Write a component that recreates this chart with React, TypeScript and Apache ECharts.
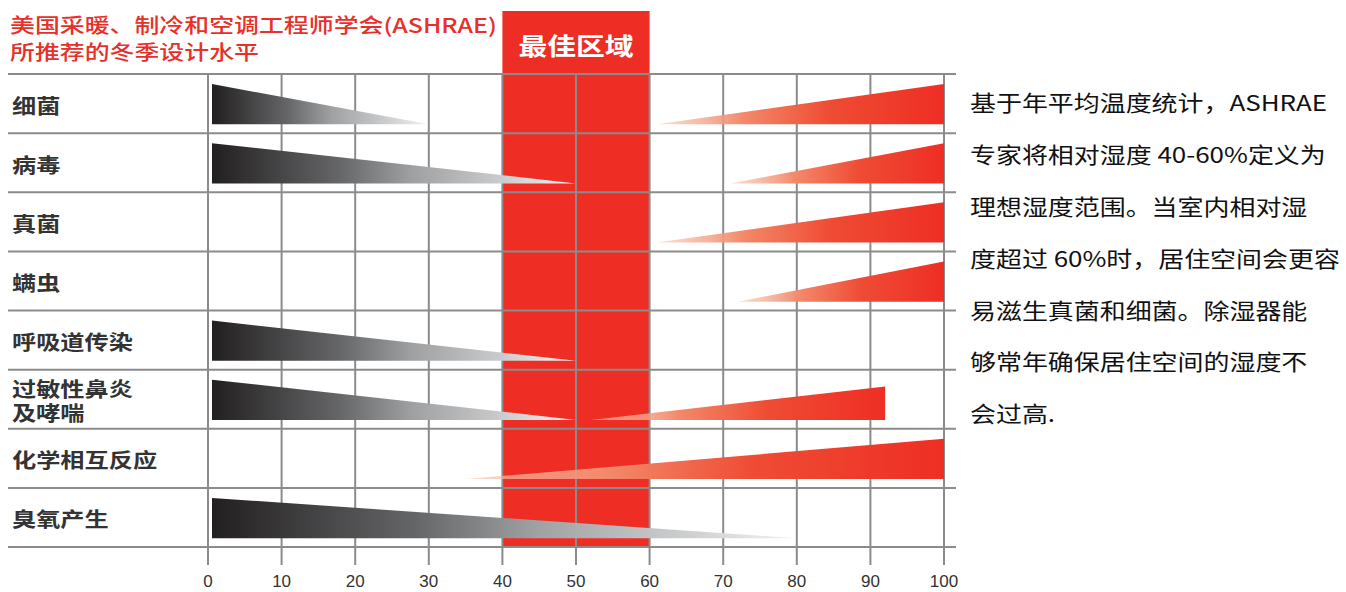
import React, { useEffect, useRef } from 'react';
import * as echarts from 'echarts';

// ---- data ----
const categories = ['细菌', '病毒', '真菌', '螨虫', '呼吸道传染', '过敏性鼻炎\n及哮喘', '化学相互反应', '臭氧产生'];
// relative humidity (%) where the low-humidity risk fades out (dark wedges, start at 0%)
const lowRiskEnd: (number | null)[] = [30, 50, null, null, 50, 50, null, 80];
// relative humidity (%) where the high-humidity risk starts (red wedges)
const highRiskStart: (number | null)[] = [61, 71, 61, 72, null, 52, 35, null];
// relative humidity (%) where the red wedge ends
const highRiskEnd: (number | null)[] = [100, 100, 100, 100, null, 92, 100, null];
const optimalRange = [40, 60];
const xTicks = [0, 10, 20, 30, 40, 50, 60, 70, 80, 90, 100];
const xMin = 0;
const xMax = 100;
const zoneLabel = '最佳区域';
const titleLines = ['美国采暖、制冷和空调工程师学会(ASHRAE)', '所推荐的冬季设计水平'];
const noteLines = [
  '基于年平均温度统计，ASHRAE',
  '专家将相对湿度 40-60%定义为',
  '理想湿度范围。当室内相对湿',
  '度超过 60%时，居住空间会更容',
  '易滋生真菌和细菌。除湿器能',
  '够常年确保居住空间的湿度不',
  '会过高.',
];

const RED = '#ee2e24';
const GRID = '#8b8b8b';
const CJK = '"Noto Sans CJK SC", "Noto Sans", sans-serif';

export default function App() {
  const ref = useRef<HTMLDivElement>(null);
  useEffect(() => {
    if (!ref.current) return;
    const chart = echarts.init(ref.current, undefined, { renderer: 'svg' });

    const lowData = lowRiskEnd
      .map((v, i) => (v == null ? null : [v, i]))
      .filter((d) => d != null);
    const highData = highRiskStart
      .map((v, i) => (v == null ? null : [v, i, highRiskEnd[i]]))
      .filter((d) => d != null);

    const option: any = {
      animation: false,
      grid: { left: 208, top: 74, width: 736, height: 473 },
      xAxis: {
        type: 'value',
        min: xMin,
        max: xMax,
        interval: 10,
        axisLine: { show: false },
        axisTick: { show: false },
        splitLine: { show: false },
        axisLabel: {
          fontSize: 17,
          color: '#333',
          margin: 26,
          fontFamily: '"Liberation Sans", Arial, sans-serif',
        },
      },
      yAxis: {
        type: 'category',
        data: categories,
        inverse: true,
        axisLine: { show: false },
        axisTick: { show: false },
        axisLabel: { show: false },
        splitLine: { show: false },
      },
      graphic: [
        {
          type: 'text',
          x: 10,
          y: 11,
          scaleX: 1.245,
          z: 10,
          style: {
            text: titleLines.join('\n'),
            fill: '#e8302a',
            font: `500 20px ${CJK}`,
            lineHeight: 27,
            verticalAlign: 'top',
          },
        },
        {
          type: 'text',
          x: 970,
          y: 76,
          scaleX: 1.18,
          z: 10,
          style: {
            text: noteLines.join('\n'),
            fill: '#111',
            font: `22px ${CJK}`,
            lineHeight: 51.8,
            verticalAlign: 'top',
          },
        },
      ],
      series: [
        {
          type: 'custom',
          name: 'zone',
          z: 1,
          clip: false,
          data: [[optimalRange[0], 0, optimalRange[1]]],
          renderItem: (params: any, api: any) => {
            const cs = params.coordSys;
            const x0 = api.coord([api.value(0), 0])[0];
            const x1 = api.coord([api.value(2), 0])[0];
            return {
              type: 'group',
              children: [
                {
                  type: 'rect',
                  shape: { x: x0, y: cs.y - 63, width: x1 - x0, height: cs.height + 63 },
                  style: { fill: RED },
                },
                {
                  type: 'text',
                  x: (x0 + x1) / 2,
                  y: cs.y - 29,
                  scaleX: 1.2,
                  style: {
                    text: zoneLabel,
                    fill: '#fff',
                    font: `bold 24px ${CJK}`,
                    align: 'center',
                    verticalAlign: 'middle',
                  },
                },
              ],
            };
          },
        },
        {
          type: 'custom',
          name: 'gridLines',
          z: 2,
          clip: false,
          data: [[0, 0]],
          renderItem: (params: any, api: any) => {
            const cs = params.coordSys;
            const band = cs.height / categories.length;
            const children: any[] = [];
            xTicks.forEach((t) => {
              const x = api.coord([t, 0])[0];
              children.push({
                type: 'line',
                shape: { x1: x, y1: cs.y, x2: x, y2: cs.y + cs.height + 18 },
                style: { stroke: GRID, lineWidth: 2 },
              });
            });
            for (let k = 0; k <= categories.length; k++) {
              const y = cs.y + k * band;
              children.push({
                type: 'line',
                shape: { x1: cs.x - 200, y1: y, x2: cs.x + cs.width + 12, y2: y },
                style: { stroke: GRID, lineWidth: 2 },
              });
            }
            return { type: 'group', children };
          },
        },
        {
          type: 'custom',
          name: 'lowRisk',
          z: 3,
          clip: false,
          data: lowData,
          renderItem: (params: any, api: any) => {
            const end = api.value(0);
            const row = api.value(1);
            const center = api.coord([xMin, row])[1];
            const band = api.size([0, 1])[1];
            const top = center - band / 2 + band * 0.17;
            const bottom = center + band / 2 - band * 0.15;
            const x0 = api.coord([xMin, row])[0] + 4;
            const x1 = api.coord([end, row])[0];
            return {
              type: 'polygon',
              shape: { points: [[x0, top], [x0, bottom], [x1, bottom]] },
              style: {
                fill: new echarts.graphic.LinearGradient(
                  x0, 0, x1, 0,
                  [
                    { offset: 0, color: '#221f20' },
                    { offset: 0.35, color: '#656668' },
                    { offset: 0.55, color: '#9fa0a2' },
                    { offset: 0.8, color: '#cbcccd' },
                    { offset: 1, color: '#f2f2f2' },
                  ],
                  true
                ),
              },
            };
          },
        },
        {
          type: 'custom',
          name: 'highRisk',
          z: 3,
          clip: false,
          data: highData,
          renderItem: (params: any, api: any) => {
            const start = api.value(0);
            const row = api.value(1);
            const end = api.value(2);
            const center = api.coord([start, row])[1];
            const band = api.size([0, 1])[1];
            const fullTop = center - band / 2 + band * 0.17;
            const bottom = center + band / 2 - band * 0.15;
            const h = (bottom - fullTop) * (end - start) / (xMax - start);
            const x0 = api.coord([start, row])[0];
            const x1 = api.coord([end, row])[0];
            return {
              type: 'polygon',
              shape: { points: [[x0, bottom], [x1, bottom - h], [x1, bottom]] },
              style: {
                fill: new echarts.graphic.LinearGradient(
                  x0, 0, x1, 0,
                  [
                    { offset: 0, color: 'rgba(248,200,180,0.6)' },
                    { offset: 0.3, color: '#f3896a' },
                    { offset: 0.6, color: '#ef4c34' },
                    { offset: 1, color: RED },
                  ],
                  true
                ),
              },
            };
          },
        },
        {
          type: 'custom',
          name: 'labels',
          z: 4,
          clip: false,
          data: categories.map((_, i) => [xMin, i]),
          renderItem: (params: any, api: any) => {
            const cs = params.coordSys;
            const row = api.value(1);
            const y = api.coord([xMin, row])[1];
            return {
              type: 'text',
              x: cs.x - 196,
              y: y + 1,
              scaleX: 1.21,
              style: {
                text: categories[row],
                fill: '#333',
                font: `bold 20px ${CJK}`,
                lineHeight: 24,
                align: 'left',
                verticalAlign: 'middle',
              },
            };
          },
        },
      ],
    };
    chart.setOption(option);
    return () => chart.dispose();
  }, []);
  return (
    <div
      ref={ref}
      style={{ position: 'fixed', left: 0, top: 0, width: 1346, height: 592, background: '#fff' }}
    />
  );
}
